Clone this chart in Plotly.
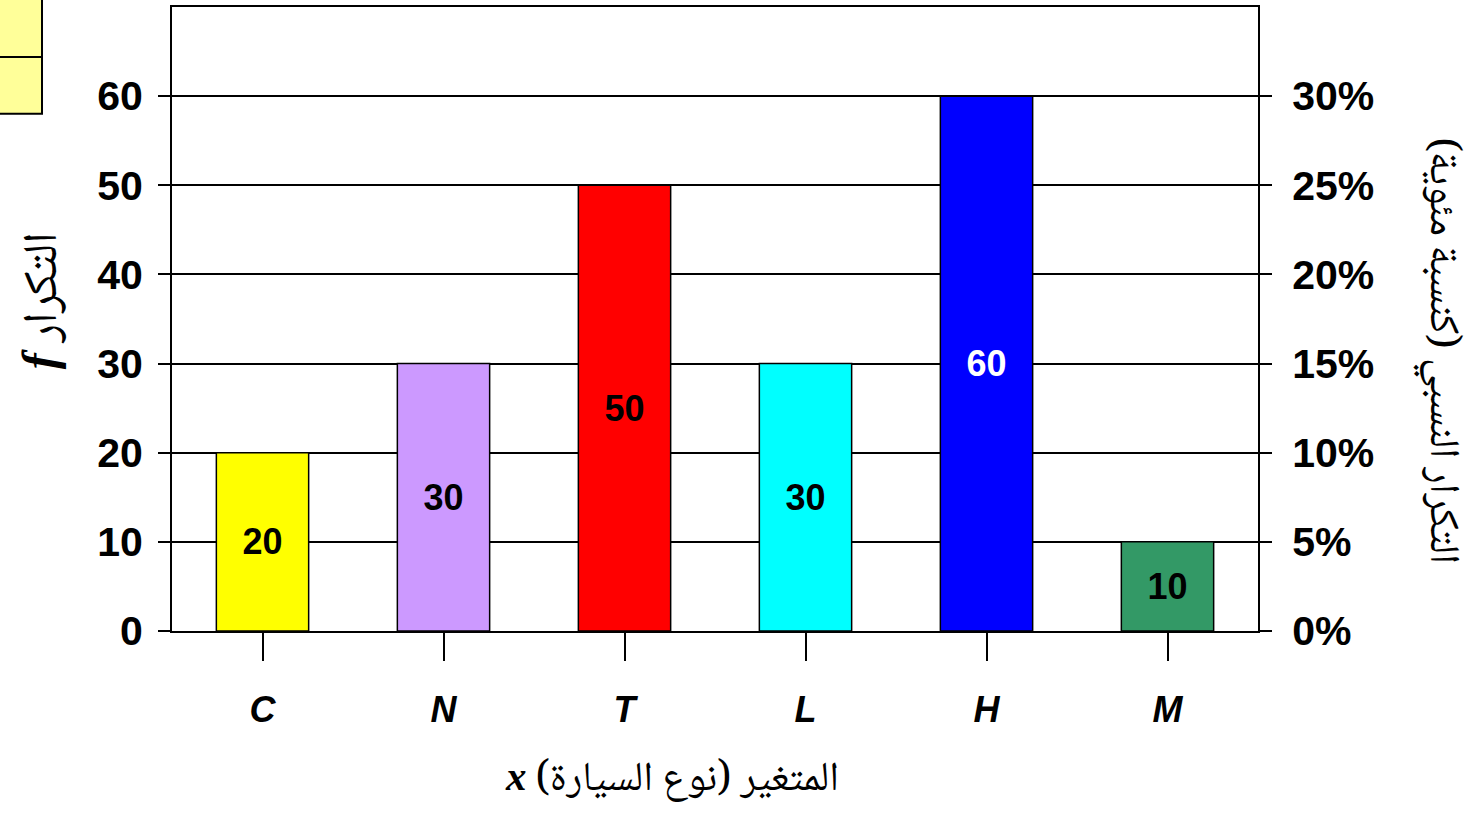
import plotly.graph_objects as go

categories = ["C", "N", "T", "L", "H", "M"]
frequencies = [20, 30, 50, 30, 60, 10]
bar_colors = ["#FFFF00", "#CC99FF", "#FF0000", "#00FFFF", "#0000FF", "#339966"]
label_colors = ["black", "black", "black", "black", "white", "black"]
y_ticks = [0, 10, 20, 30, 40, 50, 60]
pct_ticks = [0, 0.05, 0.10, 0.15, 0.20, 0.25, 0.30]

total = sum(frequencies)
relative = [f / total for f in frequencies]

ARABIC = "Noto Naskh Arabic, Amiri, DejaVu Sans, sans-serif"
LATIN = "Liberation Sans, Arial, sans-serif"
SERIF_X = '<span style="font-family:Liberation Serif, Times New Roman, serif"><b><i>%s</i></b></span>'

fig = go.Figure()
fig.add_trace(go.Bar(
    x=categories, y=frequencies,
    marker=dict(color=bar_colors, line=dict(color="black", width=1.5)),
    text=[str(v) for v in frequencies],
    textposition="inside", insidetextanchor="middle",
    textfont=dict(family=LATIN, size=36, color=label_colors, weight="bold"),
    constraintext="none",
    hoverinfo="skip", showlegend=False,
))
fig.add_trace(go.Scatter(
    x=categories, y=relative, yaxis="y2", mode="markers",
    marker=dict(opacity=0), hoverinfo="skip", showlegend=False,
))

fig.update_layout(
    width=1478, height=817,
    margin=dict(l=172, r=220, t=5, b=186),
    paper_bgcolor="white", plot_bgcolor="white",
    bargap=0.49,
    xaxis=dict(
        showline=True, linecolor="black", linewidth=2, mirror=True,
        ticks="outside", ticklen=28, tickwidth=2, tickcolor="black",
        tickfont=dict(family=LATIN, size=36, color="black", weight="bold", style="italic"),
        ticklabelstandoff=18,
        showgrid=False,
    ),
    yaxis=dict(
        range=[0, 70], tickvals=y_ticks,
        showline=True, linecolor="black", linewidth=2, mirror=True,
        ticks="outside", ticklen=12, tickwidth=2, tickcolor="black",
        tickfont=dict(family=LATIN, size=41, color="black", weight="bold"),
        ticklabelstandoff=7,
        showgrid=True, gridcolor="black", gridwidth=1.5,
        zeroline=False,
    ),
    yaxis2=dict(
        overlaying="y", side="right", range=[0, 0.35], tickvals=pct_ticks,
        tickformat=".0%",
        showline=True, linecolor="black", linewidth=2,
        ticks="outside", ticklen=12, tickwidth=2, tickcolor="black",
        tickfont=dict(family=LATIN, size=41, color="black", weight="bold"),
        ticklabelstandoff=12,
        showgrid=False, zeroline=False,
    ),
    shapes=[
        dict(type="rect", xref="paper", yref="paper", x0=-0.2, x1=-0.1197, y0=0.829, y1=1.05,
             fillcolor="#FFFF99", line=dict(color="black", width=2), layer="above"),
        dict(type="line", xref="paper", yref="paper", x0=-0.2, x1=-0.1197, y0=0.920, y1=0.920,
             line=dict(color="black", width=2)),
    ],
    annotations=[
        dict(xref="paper", yref="paper", x=0.4604, y=-0.241, showarrow=False,
             xanchor="center", yanchor="middle",
             text=(SERIF_X % "x") + " (نوع السيارة) المتغير",
             font=dict(family=ARABIC, size=41, color="black")),
        dict(xref="paper", yref="paper", x=-0.117, y=0.53, showarrow=False, textangle=-90,
             xanchor="center", yanchor="middle",
             text=(SERIF_X % "f") + " التكرار",
             font=dict(family=ARABIC, size=48, color="black")),
        dict(xref="paper", yref="paper", x=1.1676, y=0.45, showarrow=False, textangle=90,
             xanchor="center", yanchor="middle",
             text="التكرار النسبي (كنسبة مئوية)",
             font=dict(family=ARABIC, size=42, color="black")),
    ],
)

fig.write_html("out.html", config={"displayModeBar": False},
               post_script="document.body.style.margin='0';")
